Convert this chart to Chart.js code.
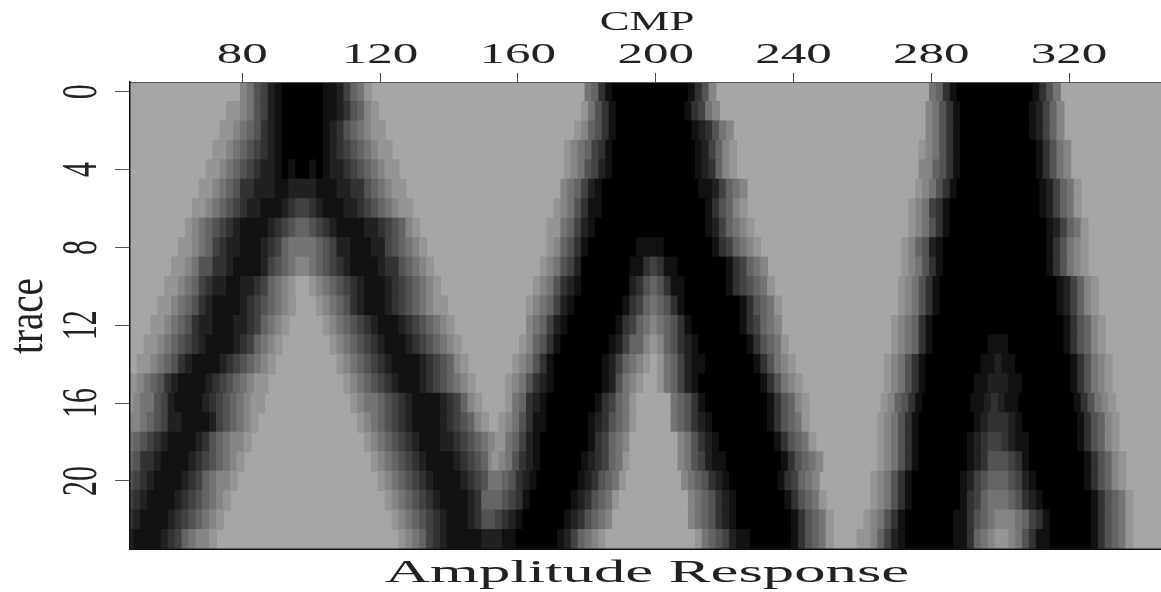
<!DOCTYPE html>
<html>
<head>
<meta charset="utf-8">
<style>
  body { margin: 0; background: #fff; }
  canvas { display: block; }
</style>
<script src="https://cdn.jsdelivr.net/npm/chart.js@4/dist/chart.umd.min.js"></script>
</head>
<body>
<canvas id="amp" width="1161" height="592"></canvas>
<script>
var cmpTicks = [80, 120, 160, 200, 240, 280, 320];
var traceTicks = [0, 4, 8, 12, 16, 20];
var topTitle = 'CMP';
var sideTitle = 'trace';
var bottomTitle = 'Amplitude Response';

// one entry per trace: [first cmp, levels], each level char covers 2 cmp, 0 = black, a = background
var leftBand = [
  [[80, '8754210000001124679']],
  [[76, '9987542100000011235689']],
  [[74, '998765321000000123567899']],
  [[72, '99876543210000001234567899']],
  [[70, '9987654322101001012234567899']],
  [[68, '998765332221122221112233567899']],
  [[66, '99876543221112344321112234567899']],
  [[64, '9876543211112345665432111122345689']],
  [[62, '998764322111234677776542211122456789']],
  [[60, '99875533211112456788765432111123356789']],
  [[58, '9987643221122346789aa9876543211123456789']],
  [[56, '99876532111123456789'], [102, '9876532111234567899']],
  [[54, '99876532211122346789'], [104, '9876543211123456789']],
  [[52, '99876543211112346789'], [106, '9876543211123456789']],
  [[50, '99876532111123456789'], [108, '9876543211112345689']],
  [[48, '98765321111234567899'], [110, '9876543211123456789']],
  [[47, '98775421111234567899'], [112, '9877654321111234689']],
  [[47, '8876542211112456789'], [114, '9876543211112345689']],
  [[47, '765432111123567889'], [116, '9876543211122345678'], [154, '9']],
  [[47, '65332111123456789'], [118, '987654321111234568']],
  [[47, '5432111123467889'], [120, '9876543211112345']],
  [[47, '432111123456789'], [122, '98765432111123']],
  [[47, '32111123456789'], [124, '987654321112']],
  [[47, '2111123467889'], [126, '9876432111']]
];

var middleBand = [
  [[180, '7631000000000001358']],
  [[179, '97531000000000013478']],
  [[177, '98653100000000000123578']],
  [[174, '9876431000000000000124689']],
  [[174, '9875421000000000000123689']],
  [[173, '876421000000000000001124678']],
  [[171, '9875311000000000000000135689']],
  [[169, '997642100000000000000001246789']],
  [[169, '9865310000000111100000001346789']],
  [[167, '987542000000011343110000000134678']],
  [[165, '98753210000000235653110000001345679']],
  [[163, '9876421000000013467653100000000135679']],
  [[163, '8764210000000134678765310000000134678']],
  [[161, '986531000000012466898653210000000135679']],
  [[159, '98753100000001246789a97642110000000135789']],
  [[157, '98753210000000125789aa976421000000000135789']],
  [[157, '9763210000000134679aaaaa76531000000000135689']],
  [[155, '98753110000001235679aaaaa76532100000000135679']],
  [[155, '9764210000000134678aaaaaaa87532100000000135679']],
  [[153, '98753210000001234679aaaaaaa875421100000000135678']],
  [[152, '77653210000001235679aaaaaaaa87653210000000134678']],
  [[150, '66654310000001235679aaaaaaaaaa87653210000000135679']],
  [[148, '35543210000001235678aaaaaaaaaaa876532100000000135679']],
  [[146, '11222110000001246789aaaaaaaaaaaaa97654211000000135679']]
];

var rightBand = [
  [[280, '7631000000000001357']],
  [[279, '87531000000000012468']],
  [[279, '87531000000000012468']],
  [[277, '9875310000000000013578']],
  [[277, '8865310000000000013578']],
  [[276, '987531000000000000124679']],
  [[274, '9874310000000000000124679']],
  [[274, '98753100000000000000124679']],
  [[272, '986521000000000000000135789']],
  [[272, '987531000000000000000135789']],
  [[271, '98753100000000000000000124689']],
  [[271, '98753100000000000000000124689']],
  [[269, '9876310000000000000000000135689']],
  [[269, '9876310000000011100000000135689']],
  [[267, '987531000000001121100000000135789']],
  [[267, '987531000000011222110000000135789']],
  [[266, '9865310000000112321100000000135789']],
  [[265, '98753100000000123332100000000135689']],
  [[265, '98753100000001234432110000000135689']],
  [[265, '987531000000012355543100000000135689']],
  [[263, '9875310000000124566654210000000135689']],
  [[263, '98753100000001346777653210000000135679']],
  [[261, '987531000000011356788876431000000135679']],
  [[259, '9986421000000011367899875311000000135679']]
];

var cells = [];
[leftBand, middleBand, rightBand].forEach(function (band) {
  band.forEach(function (row, trace) {
    row.forEach(function (seg) {
      seg[1].split('').forEach(function (ch, i) {
        cells.push({ x: [seg[0] - 0.5 + i * 2, seg[0] + 1.5 + i * 2], y: trace, level: parseInt(ch, 16) });
      });
    });
  });
});

function stretched(ctx, text, x, y, font, sx, sy, turned) {
  ctx.save();
  ctx.translate(x, y);
  ctx.scale(sx, sy);
  if (turned) ctx.rotate(-Math.PI / 2);
  ctx.font = font;
  ctx.fillStyle = '#222';
  ctx.textAlign = 'center';
  ctx.textBaseline = 'alphabetic';
  ctx.fillText(text, 0, 0);
  ctx.restore();
}

var frame = {
  id: 'frame',
  beforeDatasetsDraw: function (chart) {
    var a = chart.chartArea;
    chart.ctx.fillStyle = '#a6a6a6';
    chart.ctx.fillRect(a.left, a.top, a.right - a.left, a.bottom - a.top);
  },
  afterDraw: function (chart) {
    var ctx = chart.ctx, a = chart.chartArea;
    var font = '30px "Liberation Serif"';
    ctx.fillStyle = '#111';
    ctx.fillRect(a.left, a.bottom - 0.5, a.right - a.left, 1.5);
    cmpTicks.forEach(function (v) {
      stretched(ctx, String(v), chart.scales.x.getPixelForValue(v), 63, font, 1.7, 1, false);
    });
    traceTicks.forEach(function (v) {
      stretched(ctx, String(v), 96, chart.scales.y.getPixelForValue(v), font, 1.7, 1, true);
    });
    stretched(ctx, topTitle, 647, 30, '28px "Liberation Serif"', 1.6, 1, false);
    stretched(ctx, sideTitle, 42, 316, font, 1.7, 1.3, true);
    stretched(ctx, bottomTitle, 647, 582, '32px "Liberation Serif"', 1.96, 1, false);
  }
};

new Chart(document.getElementById('amp').getContext('2d'), {
  type: 'bar',
  data: {
    datasets: [{
      data: cells,
      barPercentage: 1,
      categoryPercentage: 1,
      inflateAmount: 0.5,
      borderWidth: 0,
      backgroundColor: function (c) {
        var g = Math.round(c.raw.level * 16.6);
        return 'rgb(' + g + ',' + g + ',' + g + ')';
      }
    }]
  },
  plugins: [frame],
  options: {
    indexAxis: 'y',
    responsive: false,
    animation: false,
    events: [],
    layout: { padding: { top: 0, left: 0, right: 0, bottom: 43 } },
    plugins: { legend: { display: false }, tooltip: { enabled: false } },
    scales: {
      x: {
        type: 'linear',
        position: 'top',
        min: 47.4,
        max: 346.7,
        afterBuildTicks: function (s) { s.ticks = cmpTicks.map(function (v) { return { value: v }; }); },
        afterFit: function (s) { s.height = 82; },
        ticks: { display: false },
        grid: { drawOnChartArea: false, tickLength: 9, tickColor: '#444', z: 1 },
        border: { color: '#555', z: 1 }
      },
      y: {
        type: 'linear',
        reverse: true,
        offset: false,
        min: -0.5,
        max: 23.5,
        afterBuildTicks: function (s) { s.ticks = traceTicks.map(function (v) { return { value: v }; }); },
        afterFit: function (s) { s.width = 130; },
        ticks: { display: false },
        grid: { offset: false, drawOnChartArea: false, tickLength: 15, tickColor: '#555', z: 1 },
        border: { color: '#111', width: 1.5, z: 1 }
      }
    }
  }
});
</script>
</body>
</html>
